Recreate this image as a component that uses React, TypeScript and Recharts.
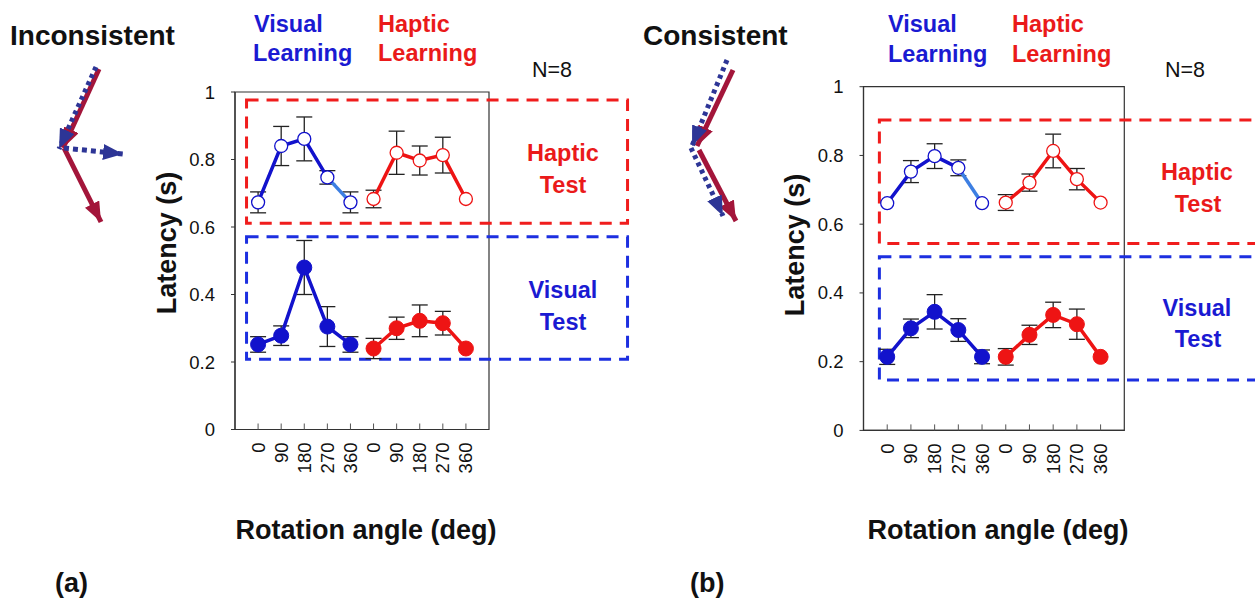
import React from 'react';
import { LineChart, Line, XAxis, YAxis, ErrorBar, ReferenceArea } from 'recharts';

// ---------- data ----------
const angleLabels = ['0', '90', '180', '270', '360', '0', '90', '180', '270', '360'];
const visualLearningPos = [1, 2, 3, 4, 5];
const hapticLearningPos = [6, 7, 8, 9, 10];
const yTicks = [0, 0.2, 0.4, 0.6, 0.8, 1];

// (a) Inconsistent
const incHapticTestVisualLearning = [0.673, 0.84, 0.861, 0.747, 0.673];
const incHapticTestVisualLearningErr = [0.031, 0.058, 0.065, 0.02, 0.031];
const incHapticTestHapticLearning = [0.683, 0.82, 0.797, 0.813, 0.683];
const incHapticTestHapticLearningErr = [0.026, 0.064, 0.043, 0.053, 0];
const incVisualTestVisualLearning = [0.252, 0.278, 0.48, 0.305, 0.252];
const incVisualTestVisualLearningErr = [0.023, 0.029, 0.08, 0.059, 0.023];
const incVisualTestHapticLearning = [0.24, 0.3, 0.322, 0.315, 0.24];
const incVisualTestHapticLearningErr = [0.03, 0.033, 0.047, 0.035, 0];

// (b) Consistent
const conHapticTestVisualLearning = [0.661, 0.753, 0.798, 0.764, 0.661];
const conHapticTestVisualLearningErr = [0, 0.032, 0.036, 0.023, 0];
const conHapticTestHapticLearning = [0.663, 0.721, 0.813, 0.731, 0.663];
const conHapticTestHapticLearningErr = [0.023, 0.025, 0.049, 0.031, 0];
const conVisualTestVisualLearning = [0.214, 0.297, 0.345, 0.292, 0.214];
const conVisualTestVisualLearningErr = [0.022, 0.027, 0.05, 0.033, 0.02];
const conVisualTestHapticLearning = [0.214, 0.278, 0.336, 0.309, 0.214];
const conVisualTestHapticLearningErr = [0.024, 0.028, 0.037, 0.044, 0];

// dashed group boxes, in data units [x1, x2, y1, y2]
const incHapticBox = [0.5, 17, 0.611, 0.976];
const incVisualBox = [0.5, 17, 0.208, 0.571];
const conHapticBox = [0.67, 20, 0.544, 0.903];
const conVisualBox = [0.67, 20, 0.147, 0.505];

// ---------- styles ----------
const FONT = '"Liberation Sans", Arial, Helvetica, sans-serif';
const BLUE = '#1212cc';
const LIGHTBLUE = '#3d7fe2';
const RED = '#ee1414';
const BOX_RED = '#f01c1c';
const BOX_BLUE = '#1c2fe0';
const TXT_BLUE = '#1a1ad2';
const TXT_RED = '#ea1a1a';
const ARROW_RED = '#a3153a';
const ARROW_BLUE = '#2d3596';

const toSeries = (pos: number[], vals: number[], errs: number[]) =>
  pos.map((x, i) => ({ x, y: vals[i], e: errs[i] }));

const XTick = (props: any) => {
  const { x, y, payload } = props;
  const label = angleLabels[Math.round(payload.value) - 1];
  const ty = y + 13;
  return (
    <g>
      <line x1={x} y1={y} x2={x} y2={y - 6} stroke="#555" strokeWidth={1} />
      <text
        x={x}
        y={ty}
        transform={`rotate(-90 ${x} ${ty})`}
        textAnchor="end"
        dominantBaseline="central"
        fontSize={18.5}
        fill="#111"
        fontFamily={FONT}
      >
        {label}
      </text>
    </g>
  );
};

type PanelProps = {
  hv: number[]; hvErr: number[];
  hh: number[]; hhErr: number[];
  vv: number[]; vvErr: number[];
  vh: number[]; vhErr: number[];
  hBox: number[]; vBox: number[];
  width: number; height: number;
  margin: { top: number; right: number; bottom: number; left: number };
  yWidth: number;
};

const openDot = (c: string) => ({ r: 6.5, fill: '#fff', stroke: c, strokeWidth: 1.3 });
const fullDot = (c: string) => ({ r: 7.5, fill: c, stroke: c, strokeWidth: 1 });

function Panel(p: PanelProps) {
  const hvAll = toSeries(visualLearningPos, p.hv, p.hvErr);
  const hvDark = hvAll.slice(0, 4);
  const hvLight = hvAll.slice(3, 5);
  const hhAll = toSeries(hapticLearningPos, p.hh, p.hhErr);
  const vvAll = toSeries(visualLearningPos, p.vv, p.vvErr);
  const vhAll = toSeries(hapticLearningPos, p.vh, p.vhErr);
  const eb: any = { dataKey: 'e', width: 8, stroke: '#222', strokeWidth: 1.3, zIndex: 300 };
  const lz: any = { zIndex: 300 };
  const errOnly = (d: any[]) => (
    <Line {...lz} data={d} dataKey="y" type="linear" stroke="none" dot={false} activeDot={false} isAnimationActive={false} legendType="none">
      <ErrorBar {...eb} />
    </Line>
  );
  return (
    <LineChart width={p.width} height={p.height} margin={p.margin}>
      <XAxis
        dataKey="x"
        type="number"
        domain={[0, 11]}
        ticks={[1, 2, 3, 4, 5, 6, 7, 8, 9, 10]}
        tick={<XTick />}
        tickLine={false}
        tickSize={0}
        tickMargin={0}
        height={60}
        axisLine={{ stroke: '#333', strokeWidth: 1.2 }}
        interval={0}
        allowDataOverflow
      />
      <YAxis
        type="number"
        domain={[0, 1]}
        ticks={yTicks}
        width={p.yWidth}
        tickSize={4}
        tickMargin={16}
        tick={{ fontSize: 18.5, fill: '#111', fontFamily: FONT }}
        tickLine={{ stroke: '#333' }}
        axisLine={{ stroke: '#333', strokeWidth: 1.2 }}
        allowDataOverflow
      />
      <ReferenceArea x1={0} x2={11} y1={0} y2={1} fill="none" stroke="#333" strokeWidth={1.2} ifOverflow="visible" />
      <ReferenceArea
        x1={p.hBox[0]} x2={p.hBox[1]} y1={p.hBox[2]} y2={p.hBox[3]}
        fill="none" fillOpacity={0} stroke={BOX_RED} strokeWidth={3} strokeDasharray="12 8" ifOverflow="visible"
      />
      <ReferenceArea
        x1={p.vBox[0]} x2={p.vBox[1]} y1={p.vBox[2]} y2={p.vBox[3]}
        fill="none" fillOpacity={0} stroke={BOX_BLUE} strokeWidth={3} strokeDasharray="12 8" ifOverflow="visible"
      />
      {errOnly(hvAll)}
      {errOnly(hhAll)}
      {errOnly(vvAll)}
      {errOnly(vhAll)}
      <Line data={hvDark} dataKey="y" type="linear" stroke={BLUE} strokeWidth={3.5} dot={false} activeDot={false} isAnimationActive={false} />
      <Line data={hvLight} dataKey="y" type="linear" stroke={LIGHTBLUE} strokeWidth={3.5} dot={false} activeDot={false} isAnimationActive={false} />
      <Line data={hvAll} dataKey="y" type="linear" stroke="none" dot={openDot(BLUE)} activeDot={false} isAnimationActive={false} />
      <Line data={hhAll} dataKey="y" type="linear" stroke={RED} strokeWidth={3.5} dot={openDot(RED)} activeDot={false} isAnimationActive={false} />
      <Line data={vvAll} dataKey="y" type="linear" stroke={BLUE} strokeWidth={3.5} dot={fullDot(BLUE)} activeDot={false} isAnimationActive={false} />
      <Line data={vhAll} dataKey="y" type="linear" stroke={RED} strokeWidth={3.5} dot={fullDot(RED)} activeDot={false} isAnimationActive={false} />
    </LineChart>
  );
}

const T = (props: any) => {
  const { children, ...rest } = props;
  return (
    <text fontFamily={FONT} {...rest}>
      {children}
    </text>
  );
};

function Overlay() {
  const bold = { fontWeight: 700 };
  return (
    <svg width={1255} height={599} style={{ position: 'absolute', left: 0, top: 0, pointerEvents: 'none' }}>
      <defs>
        <marker id="hRed" viewBox="0 0 20 16" refX="20" refY="8" markerWidth="20" markerHeight="16" markerUnits="userSpaceOnUse" orient="auto">
          <path d="M0,0 L20,8 L0,16 Z" fill={ARROW_RED} />
        </marker>
        <marker id="hBlue" viewBox="0 0 20 16" refX="20" refY="8" markerWidth="20" markerHeight="16" markerUnits="userSpaceOnUse" orient="auto">
          <path d="M0,0 L20,8 L0,16 Z" fill={ARROW_BLUE} />
        </marker>
      </defs>

      {/* Inconsistent arrows */}
      <line x1={99} y1={69} x2={63} y2={148} stroke={ARROW_RED} strokeWidth={5} markerEnd="url(#hRed)" />
      <line x1={64} y1={148} x2={101} y2={222} stroke={ARROW_RED} strokeWidth={5} markerEnd="url(#hRed)" />
      <line x1={96} y1={67} x2={59} y2={149} stroke={ARROW_BLUE} strokeWidth={5} strokeDasharray="4 4" markerEnd="url(#hBlue)" />
      <line x1={64} y1={148} x2={123} y2={154} stroke={ARROW_BLUE} strokeWidth={5} strokeDasharray="5 4" markerEnd="url(#hBlue)" />

      {/* Consistent arrows */}
      <line x1={733} y1={70} x2={697} y2={146} stroke={ARROW_RED} strokeWidth={5} markerEnd="url(#hRed)" />
      <line x1={699} y1={150} x2={736} y2={221} stroke={ARROW_RED} strokeWidth={5} markerEnd="url(#hRed)" />
      <line x1={727} y1={60} x2={692} y2={146} stroke={ARROW_BLUE} strokeWidth={5} strokeDasharray="4 4" markerEnd="url(#hBlue)" />
      <line x1={691} y1={148} x2={723} y2={216} stroke={ARROW_BLUE} strokeWidth={5} strokeDasharray="4 4" markerEnd="url(#hBlue)" />

      {/* titles */}
      <T x={10} y={45} fontSize={28} {...bold} fill="#111">Inconsistent</T>
      <T x={643} y={45} fontSize={28} {...bold} fill="#111">Consistent</T>

      {/* learning headers (a) */}
      <T x={254} y={32} fontSize={23.5} {...bold} fill={TXT_BLUE}>Visual</T>
      <T x={253} y={61} fontSize={23.5} {...bold} fill={TXT_BLUE}>Learning</T>
      <T x={378} y={32} fontSize={23.5} {...bold} fill={TXT_RED}>Haptic</T>
      <T x={378} y={61} fontSize={23.5} {...bold} fill={TXT_RED}>Learning</T>
      <T x={532} y={77} fontSize={21.5} fill="#111">N=8</T>

      {/* learning headers (b) */}
      <T x={888} y={32} fontSize={23.5} {...bold} fill={TXT_BLUE}>Visual</T>
      <T x={888} y={62} fontSize={23.5} {...bold} fill={TXT_BLUE}>Learning</T>
      <T x={1012} y={32} fontSize={23.5} {...bold} fill={TXT_RED}>Haptic</T>
      <T x={1012} y={62} fontSize={23.5} {...bold} fill={TXT_RED}>Learning</T>
      <T x={1165} y={77} fontSize={21.5} fill="#111">N=8</T>

      {/* box labels (a) */}
      <T x={563} y={161} fontSize={23.5} {...bold} fill={TXT_RED} textAnchor="middle">Haptic</T>
      <T x={563} y={193} fontSize={23.5} {...bold} fill={TXT_RED} textAnchor="middle">Test</T>
      <T x={563} y={298} fontSize={23.5} {...bold} fill={TXT_BLUE} textAnchor="middle">Visual</T>
      <T x={563} y={330} fontSize={23.5} {...bold} fill={TXT_BLUE} textAnchor="middle">Test</T>

      {/* box labels (b) */}
      <T x={1197} y={180} fontSize={23.5} {...bold} fill={TXT_RED} textAnchor="middle">Haptic</T>
      <T x={1198} y={212} fontSize={23.5} {...bold} fill={TXT_RED} textAnchor="middle">Test</T>
      <T x={1197} y={316} fontSize={23.5} {...bold} fill={TXT_BLUE} textAnchor="middle">Visual</T>
      <T x={1198} y={347} fontSize={23.5} {...bold} fill={TXT_BLUE} textAnchor="middle">Test</T>

      {/* axis titles */}
      <T x={167} y={243} fontSize={27} {...bold} fill="#111" textAnchor="middle" dominantBaseline="central" transform="rotate(-90 167 243)">Latency (s)</T>
      <T x={795} y={245} fontSize={27} {...bold} fill="#111" textAnchor="middle" dominantBaseline="central" transform="rotate(-90 795 245)">Latency (s)</T>
      <T x={366} y={539} fontSize={27} {...bold} fill="#111" textAnchor="middle">Rotation angle (deg)</T>
      <T x={998} y={539} fontSize={27} {...bold} fill="#111" textAnchor="middle">Rotation angle (deg)</T>

      {/* panel letters */}
      <T x={55} y={592} fontSize={27} {...bold} fill="#111">(a)</T>
      <T x={690} y={592} fontSize={27} {...bold} fill="#111">(b)</T>
    </svg>
  );
}

export default function App() {
  return (
    <div style={{ position: 'relative', width: 1255, height: 599, background: '#fff', fontFamily: FONT, overflow: 'hidden' }}>
      <style>{'body{margin:0;background:#fff}'}</style>
      <div style={{ position: 'absolute', left: 0, top: 0 }}>
        <Panel
          hv={incHapticTestVisualLearning} hvErr={incHapticTestVisualLearningErr}
          hh={incHapticTestHapticLearning} hhErr={incHapticTestHapticLearningErr}
          vv={incVisualTestVisualLearning} vvErr={incVisualTestVisualLearningErr}
          vh={incVisualTestHapticLearning} vhErr={incVisualTestHapticLearningErr}
          hBox={incHapticBox} vBox={incVisualBox}
          width={630} height={599}
          margin={{ top: 92, right: 141, bottom: 109.5, left: 0 }}
          yWidth={235}
        />
      </div>
      <div style={{ position: 'absolute', left: 630, top: 0 }}>
        <Panel
          hv={conHapticTestVisualLearning} hvErr={conHapticTestVisualLearningErr}
          hh={conHapticTestHapticLearning} hhErr={conHapticTestHapticLearningErr}
          vv={conVisualTestVisualLearning} vvErr={conVisualTestVisualLearningErr}
          vh={conVisualTestHapticLearning} vhErr={conVisualTestHapticLearningErr}
          hBox={conHapticBox} vBox={conVisualBox}
          width={625} height={599}
          margin={{ top: 86.7, right: 130.7, bottom: 108.6, left: 0 }}
          yWidth={233.5}
        />
      </div>
      <Overlay />
    </div>
  );
}
